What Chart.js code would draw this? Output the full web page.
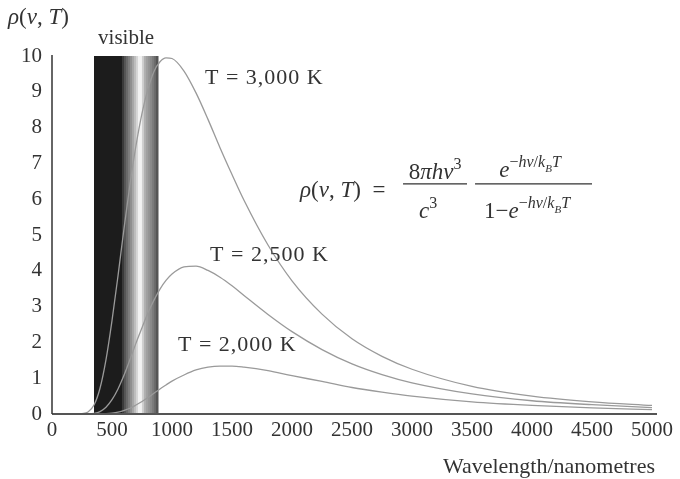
<!DOCTYPE html>
<html>
<head>
<meta charset="utf-8">
<script src="https://cdn.jsdelivr.net/npm/chart.js@4.4.0/dist/chart.umd.min.js"></script>
<style>
  body { margin: 0; background: #fff; }
  canvas { display: block; }
</style>
</head>
<body>
<canvas id="planck" width="680" height="479"></canvas>
<script>
// wavelengths in nm
const wavelengths = [200, 250, 300, 350, 400, 450, 500, 550, 600, 650, 700, 750, 800, 850, 900, 950,
  1000, 1100, 1200, 1300, 1400, 1500, 1600, 1800, 2000, 2250, 2500, 2750, 3000, 3500, 4000, 4500, 5000];

const t3000 = [0, 0.01, 0.055, 0.25, 0.72, 1.52, 2.61, 3.86, 5.18, 6.42, 7.50, 8.40, 9.08, 9.57, 9.84, 9.95,
  9.93, 9.58, 8.97, 8.23, 7.44, 6.69, 5.97, 4.72, 3.72, 2.79, 2.10, 1.61, 1.25, 0.77, 0.50, 0.34, 0.24];
const t2500 = [0, 0, 0.002, 0.017, 0.068, 0.19, 0.40, 0.70, 1.08, 1.52, 1.98, 2.41, 2.83, 3.18, 3.49, 3.73,
  3.91, 4.11, 4.13, 4.01, 3.82, 3.58, 3.31, 2.78, 2.30, 1.80, 1.40, 1.10, 0.87, 0.56, 0.37, 0.26, 0.18];
const t2000 = [0, 0, 0, 0, 0.002, 0.007, 0.022, 0.05, 0.10, 0.16, 0.25, 0.35, 0.46, 0.58, 0.70, 0.81,
  0.92, 1.09, 1.23, 1.31, 1.34, 1.34, 1.31, 1.21, 1.07, 0.91, 0.74, 0.61, 0.50, 0.34, 0.24, 0.17, 0.12];

const xTicks = [0, 500, 1000, 1500, 2000, 2500, 3000, 3500, 4000, 4500, 5000];
const yTicks = [0, 1, 2, 3, 4, 5, 6, 7, 8, 9, 10];
const visibleBand = [350, 885];

const FONT = "'Liberation Serif', 'Times New Roman', serif";
const INK = '#333';

const toPts = (ys) => wavelengths.map((x, i) => ({ x: x, y: ys[i] }));

// draws a row of text pieces (italic / superscript etc)
function drawRuns(ctx, parts, x, y, align, base) {
  base = base || 22;
  let total = 0;
  parts.forEach(p => {
    ctx.font = (p.it ? 'italic ' : '') + (p.sz || base) + 'px ' + FONT;
    p.w = ctx.measureText(p.t).width;
    total += p.w;
  });
  let cx = align === 'center' ? x - total / 2 : x;
  ctx.textAlign = 'left';
  ctx.textBaseline = 'alphabetic';
  parts.forEach(p => {
    ctx.font = (p.it ? 'italic ' : '') + (p.sz || base) + 'px ' + FONT;
    ctx.fillText(p.t, cx, y + (p.dy || 0));
    cx += p.w;
  });
  return total;
}

const bandPlugin = {
  id: 'band',
  beforeDatasetsDraw(chart) {
    const { ctx, scales: { x, y } } = chart;
    const x0 = x.getPixelForValue(visibleBand[0]);
    const x1 = x.getPixelForValue(visibleBand[1]);
    const top = y.getPixelForValue(10), bot = y.getPixelForValue(0);
    const w = x1 - x0;
    ctx.save();
    ctx.fillStyle = '#1c1c1c';
    ctx.fillRect(x0, top, w * 0.44, bot - top);
    const stripes = ['#3a3a3a', '#555', '#6a6a6a', '#7d7d7d', '#8f8f8f', '#a5a5a5', '#bdbdbd', '#d5d5d5',
      '#f2f2f2', '#f2f2f2', '#d0d0d0', '#b0b0b0', '#a0a0a0', '#959595', '#8a8a8a', '#7c7c7c', '#6c6c6c', '#555'];
    const sx = x0 + w * 0.44, sw = (x1 - sx) / stripes.length;
    stripes.forEach((c, i) => {
      ctx.fillStyle = c;
      ctx.fillRect(sx + i * sw - 0.3, top, sw + 0.6, bot - top);
    });
    ctx.restore();
  }
};

const textPlugin = {
  id: 'texts',
  afterDatasetsDraw(chart) {
    const { ctx, scales: { x, y }, chartArea } = chart;
    ctx.save();
    // axes
    ctx.strokeStyle = '#555';
    ctx.lineWidth = 2;
    ctx.beginPath();
    ctx.moveTo(chartArea.left, chartArea.bottom);
    ctx.lineTo(chartArea.right + 5, chartArea.bottom);
    ctx.stroke();
    ctx.strokeStyle = '#333';
    ctx.lineWidth = 1.5;
    ctx.beginPath();
    ctx.moveTo(chartArea.left, chartArea.top - 1);
    ctx.lineTo(chartArea.left, chartArea.bottom);
    ctx.stroke();

    ctx.fillStyle = INK;
    // y axis title
    drawRuns(ctx, [{ t: 'ρ', it: true }, { t: '(' }, { t: 'ν', it: true }, { t: ', ' }, { t: 'T', it: true }, { t: ')' }], 8, 24, 'left', 23);
    // visible
    ctx.font = '21px ' + FONT;
    ctx.textAlign = 'center';
    ctx.textBaseline = 'middle';
    ctx.fillText('visible', x.getPixelForValue(617), 38);
    // x title
    ctx.font = '22px ' + FONT;
    ctx.textAlign = 'right';
    ctx.fillText('Wavelength/nanometres', 655, 467);

    // curve labels
    ctx.font = '22px ' + FONT;
    ctx.letterSpacing = '1px';
    ctx.textAlign = 'left';
    ctx.fillText('T = 3,000 K', x.getPixelForValue(1275), y.getPixelForValue(9.39));
    ctx.fillText('T = 2,500 K', x.getPixelForValue(1317), y.getPixelForValue(4.44));
    ctx.fillText('T = 2,000 K', x.getPixelForValue(1050), y.getPixelForValue(1.93));
    ctx.letterSpacing = '0px';

    // formula
    const fx = x.getPixelForValue(2067), fy = y.getPixelForValue(6.26);
    const sup = { sz: 16, dy: -10 };
    drawRuns(ctx, [{ t: 'ρ', it: true }, { t: '(' }, { t: 'ν', it: true }, { t: ', ' }, { t: 'T', it: true }, { t: ')  =' }], fx, fy + 7, 'left', 23);
    drawRuns(ctx, [{ t: '8' }, { t: 'πhν', it: true }, { t: '3', ...sup }], fx + 135, fy - 11, 'center', 23);
    drawRuns(ctx, [{ t: 'c', it: true }, { t: '3', ...sup }], fx + 128, fy + 28, 'center', 23);
    const expo = [{ t: '−', ...sup }, { t: 'hν', it: true, ...sup }, { t: '/', ...sup },
      { t: 'k', it: true, ...sup }, { t: 'B', it: true, sz: 11, dy: -5 }, { t: 'T', it: true, ...sup }];
    drawRuns(ctx, [{ t: 'e', it: true }].concat(expo), fx + 230, fy - 13, 'center', 23);
    drawRuns(ctx, [{ t: '1−' }, { t: 'e', it: true }].concat(expo), fx + 227, fy + 28, 'center', 23);
    ctx.strokeStyle = INK;
    ctx.lineWidth = 1.2;
    ctx.beginPath();
    ctx.moveTo(fx + 103, fy - 6); ctx.lineTo(fx + 167, fy - 6);
    ctx.moveTo(fx + 175, fy - 6); ctx.lineTo(fx + 292, fy - 6);
    ctx.stroke();
    ctx.restore();
  }
};

const lineStyle = {
  borderColor: '#9a9a9a',
  borderWidth: 1.3,
  pointRadius: 0,
  fill: false,
  cubicInterpolationMode: 'monotone'
};

new Chart(document.getElementById('planck'), {
  type: 'line',
  data: {
    datasets: [
      { label: 'T = 3,000 K', data: toPts(t3000), ...lineStyle },
      { label: 'T = 2,500 K', data: toPts(t2500), ...lineStyle },
      { label: 'T = 2,000 K', data: toPts(t2000), ...lineStyle }
    ]
  },
  options: {
    responsive: false,
    animation: false,
    devicePixelRatio: 1,
    layout: { padding: { top: 56, right: 28, left: 0, bottom: 0 } },
    plugins: { legend: { display: false }, tooltip: { enabled: false } },
    scales: {
      x: {
        type: 'linear',
        min: 0,
        max: 5000,
        afterBuildTicks: (s) => { s.ticks = xTicks.map(v => ({ value: v })); },
        afterFit: (s) => { s.height = 65; },
        grid: { display: false, drawTicks: false },
        border: { display: false },
        ticks: { color: INK, font: { family: FONT, size: 21 }, padding: 4, maxRotation: 0, callback: v => String(v) }
      },
      y: {
        min: 0,
        max: 10,
        afterBuildTicks: (s) => { s.ticks = yTicks.map(v => ({ value: v })); },
        afterFit: (s) => { s.width = 52; },
        grid: { display: false, drawTicks: false },
        border: { display: false },
        ticks: { color: INK, font: { family: FONT, size: 21 }, padding: 10, callback: v => String(v) }
      }
    }
  },
  plugins: [bandPlugin, textPlugin]
});
</script>
</body>
</html>
